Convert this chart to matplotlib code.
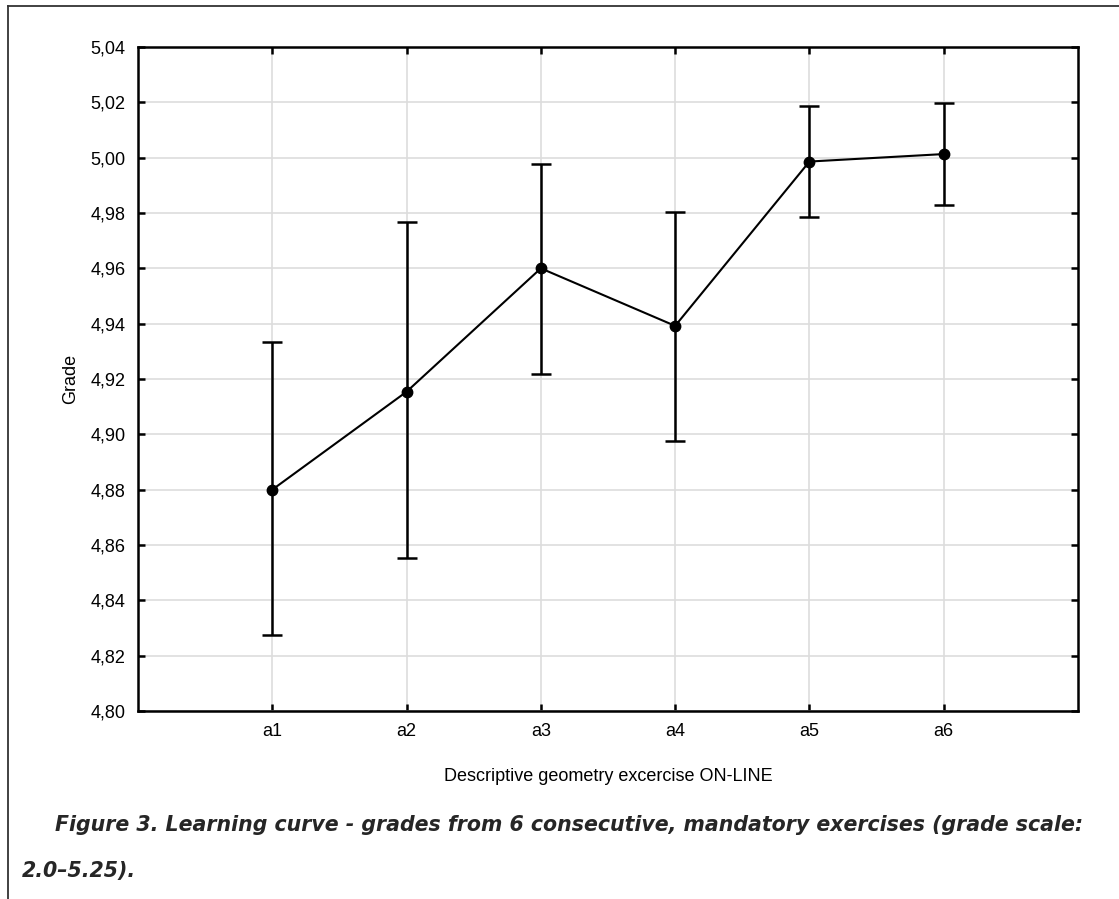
import matplotlib
matplotlib.use('Agg')
import matplotlib.pyplot as plt
from matplotlib.lines import Line2D

# data
labels = ['a1', 'a2', 'a3', 'a4', 'a5', 'a6']
means = [4.880, 4.9154, 4.960, 4.9392, 4.9986, 5.0013]
upper = [4.9334, 4.9769, 4.9978, 4.9804, 5.0187, 5.0198]
lower = [4.8275, 4.8552, 4.9219, 4.8976, 4.9785, 4.9828]
yticks = [4.80, 4.82, 4.84, 4.86, 4.88, 4.90, 4.92, 4.94, 4.96, 4.98, 5.00, 5.02, 5.04]

plt.rcParams['font.family'] = ['Liberation Sans', 'DejaVu Sans']

fig = plt.figure(figsize=(11.19, 8.99), dpi=100)
ax = fig.add_axes([138/1119, 1 - 711/899, (1078-138)/1119, (711-47)/899])

x = list(range(1, len(labels)+1))
yerr = [[m - l for m, l in zip(means, lower)], [u - m for m, u in zip(means, upper)]]
ax.errorbar(x, means, yerr=yerr, fmt='o-', color='black', ms=7.5, lw=1.5,
            elinewidth=1.8, capsize=7, capthick=1.8, zorder=3)

ax.set_xlim(0, 7)
ax.set_ylim(4.80, 5.04)
ax.set_xticks(x)
ax.set_xticklabels(labels)
ax.set_yticks(yticks)
ax.set_yticklabels([('%.2f' % t).replace('.', ',') for t in yticks])
ax.grid(True, color='#dddddd', lw=1.2)
ax.set_axisbelow(True)
for s in ax.spines.values():
    s.set_linewidth(1.8)
ax.tick_params(direction='in', length=5, width=1.8, top=True, right=True,
               labelsize=13, pad=9)
ax.set_ylabel('Grade', fontsize=13, labelpad=8)
ax.set_xlabel('Descriptive geometry excercise ON-LINE', fontsize=13, labelpad=20)

# page frame around the figure
fig.add_artist(Line2D([8/1119, 8/1119], [0, 1 - 6/899], transform=fig.transFigure, color='#333333', lw=1.3))
fig.add_artist(Line2D([8/1119, 1], [1 - 6/899, 1 - 6/899], transform=fig.transFigure, color='#333333', lw=1.3))

cap = dict(fontsize=14.8, fontweight='bold', style='italic', color='#262626',
           family=['DejaVu Sans'], va='center', ha='left')
fig.text(55/1119, 1 - 825/899, 'Figure 3. Learning curve - grades from 6 consecutive, mandatory exercises (grade scale:', **cap)
fig.text(22/1119, 1 - 871/899, '2.0\u20135.25).', **cap)

fig.savefig('out.png', dpi=100)
